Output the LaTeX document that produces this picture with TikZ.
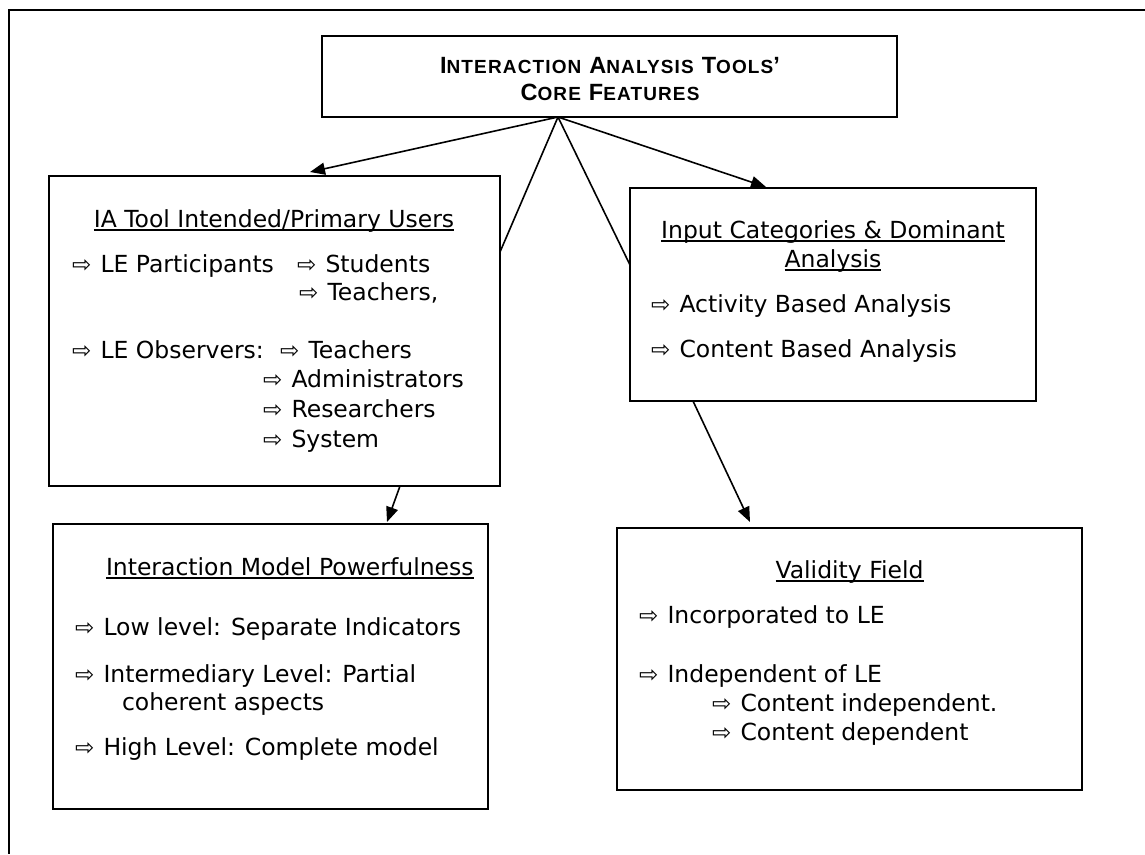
\documentclass[tikz,border=0pt]{standalone}
\usepackage{fontspec}
\usetikzlibrary{arrows.meta}
\setmainfont{DejaVu Sans}
\newfontfamily\titlefont{Liberation Sans Bold}[LetterSpace=6]
\newfontfamily\arrfont{DejaVu Sans}
\newcommand\arrw{\makebox[28.5pt][l]{\arrfont\fontsize{23}{23}\selectfont ⇨}}
\newcommand\bigsc[2]{#1{\fontsize{19}{19}\selectfont #2}}
\newcommand\myul[1]{\leavevmode\setbox0=\hbox{#1}\rlap{\rule[-3.5pt]{\wd0}{1.4pt}}\box0}
\tikzset{
  box/.style={draw, line width=1.9pt, inner sep=0pt, outer sep=0pt, anchor=north west},
  txt/.style={inner sep=0pt, outer sep=0pt, anchor=base west, font=\fontsize{23.5}{29.5}\selectfont},
  ctxt/.style={txt, anchor=base},
  ttl/.style={inner sep=0pt, outer sep=0pt, anchor=base, font=\titlefont\fontsize{23.5}{27}\selectfont},
  conn/.style={line width=1.6pt},
  arr/.style={conn, -{Triangle[length=15pt,width=12pt]}}
}
\begin{document}
\begin{tikzpicture}[x=1pt,y=-1pt]
\useasboundingbox (0,0) rectangle (1145,854);
\draw[line width=1.8pt] (1145,10) -- (9,10) -- (9,854);
% boxes
\node[box, minimum width=575pt, minimum height=81pt] (title) at (322,36) {};
\node[box, minimum width=451pt, minimum height=310pt] (users) at (49,176) {};
\node[box, minimum width=406pt, minimum height=213pt] (input) at (630,188) {};
\node[box, minimum width=435pt, minimum height=285pt] (model) at (53,524) {};
\node[box, minimum width=465pt, minimum height=262pt] (valid) at (617,528) {};
% title text
\node[ttl] (t1) at (610,73) {\bigsc{I}{NTERACTION} \bigsc{A}{NALYSIS} \bigsc{T}{OOLS}’};
\node[ttl] (t2) at (610,100) {\bigsc{C}{ORE} \bigsc{F}{EATURES}};
% users
\node[ctxt] (u0) at (274,227) {\myul{IA Tool Intended/Primary Users}};
\node[txt] (u1) at (72,272) {\arrw LE Participants};
\node[txt] (u2) at (297,272) {\arrw Students};
\node[txt] (u3) at (299,300) {\arrw Teachers,};
\node[txt] (u4) at (72,358) {\arrw LE Observers:};
\node[txt] (u5) at (280,358) {\arrw Teachers};
\node[txt] (u6) at (263,387) {\arrw Administrators};
\node[txt] (u7) at (263,417) {\arrw Researchers};
\node[txt] (u8) at (263,447) {\arrw System};
% input
\node[ctxt] (i0) at (833,238) {\myul{Input Categories \& Dominant}};
\node[ctxt] (i1) at (833,267) {\myul{Analysis}};
\node[txt] (i2) at (651,312) {\arrw Activity Based Analysis};
\node[txt] (i3) at (651,357) {\arrw Content Based Analysis};
% model
\node[txt] (m0) at (106,575) {\myul{Interaction Model Powerfulness}};
\node[txt] (m1) at (75,635) {\arrw Low level: Separate Indicators};
\node[txt] (m2) at (75,682) {\arrw Intermediary Level: Partial};
\node[txt] (m3) at (122,710) {coherent aspects};
\node[txt] (m4) at (75,755) {\arrw High Level: Complete model};
% validity
\node[ctxt] (v0) at (849.5,578) {\myul{Validity Field}};
\node[txt] (v1) at (639,623) {\arrw Incorporated to LE};
\node[txt] (v2) at (639,682) {\arrw Independent of LE};
\node[txt] (v3) at (712,711) {\arrw Content independent.};
\node[txt] (v4) at (712,740) {\arrw Content dependent};
% connector points
\coordinate (apex) at (558,117);
\coordinate (tipL) at (310,172);
\coordinate (tipR) at (766,187);
\coordinate (uR) at (500,252);
\coordinate (iL) at (630,265);
\coordinate (uB) at (400,486);
\coordinate (tipM) at (387,522);
\coordinate (iB) at (693,401);
\coordinate (tipV) at (750,522);
\draw[arr] (apex) -- (tipL);
\draw[arr] (apex) -- (tipR);
\draw[conn] (apex) -- (uR);
\draw[conn] (apex) -- (iL);
\draw[arr] (uB) -- (tipM);
\draw[arr] (iB) -- (tipV);
\end{tikzpicture}
\end{document}
